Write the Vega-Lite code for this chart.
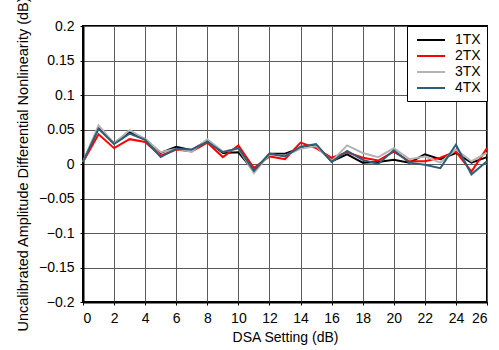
{
  "$schema": "https://vega.github.io/schema/vega-lite/v6.json",
  "width": 404,
  "height": 276,
  "autosize": "none",
  "padding": {"left": 83, "top": 26, "right": 12, "bottom": 48},
  "background": "white",
  "config": {
    "font": "Liberation Sans",
    "view": {"stroke": "black", "strokeWidth": 2}
  },
  "data": {
    "values": [
      {"x":0,"s":"1TX","y":0.003},{"x":1,"s":"1TX","y":0.052},{"x":2,"s":"1TX","y":0.030},{"x":3,"s":"1TX","y":0.046},{"x":4,"s":"1TX","y":0.036},{"x":5,"s":"1TX","y":0.016},{"x":6,"s":"1TX","y":0.025},{"x":7,"s":"1TX","y":0.020},{"x":8,"s":"1TX","y":0.034},{"x":9,"s":"1TX","y":0.016},{"x":10,"s":"1TX","y":0.017},{"x":11,"s":"1TX","y":-0.010},{"x":12,"s":"1TX","y":0.015},{"x":13,"s":"1TX","y":0.015},{"x":14,"s":"1TX","y":0.023},{"x":15,"s":"1TX","y":0.027},{"x":16,"s":"1TX","y":0.004},{"x":17,"s":"1TX","y":0.014},{"x":18,"s":"1TX","y":0.002},{"x":19,"s":"1TX","y":0.003},{"x":20,"s":"1TX","y":0.006},{"x":21,"s":"1TX","y":0.002},{"x":22,"s":"1TX","y":0.014},{"x":23,"s":"1TX","y":0.007},{"x":24,"s":"1TX","y":0.016},{"x":25,"s":"1TX","y":0.002},{"x":26,"s":"1TX","y":0.010},
      {"x":0,"s":"2TX","y":0.003},{"x":1,"s":"2TX","y":0.043},{"x":2,"s":"2TX","y":0.023},{"x":3,"s":"2TX","y":0.036},{"x":4,"s":"2TX","y":0.032},{"x":5,"s":"2TX","y":0.012},{"x":6,"s":"2TX","y":0.021},{"x":7,"s":"2TX","y":0.018},{"x":8,"s":"2TX","y":0.031},{"x":9,"s":"2TX","y":0.010},{"x":10,"s":"2TX","y":0.027},{"x":11,"s":"2TX","y":-0.006},{"x":12,"s":"2TX","y":0.011},{"x":13,"s":"2TX","y":0.007},{"x":14,"s":"2TX","y":0.031},{"x":15,"s":"2TX","y":0.023},{"x":16,"s":"2TX","y":0.009},{"x":17,"s":"2TX","y":0.017},{"x":18,"s":"2TX","y":0.009},{"x":19,"s":"2TX","y":0.005},{"x":20,"s":"2TX","y":0.018},{"x":21,"s":"2TX","y":0.004},{"x":22,"s":"2TX","y":0.004},{"x":23,"s":"2TX","y":0.009},{"x":24,"s":"2TX","y":0.018},{"x":25,"s":"2TX","y":-0.011},{"x":26,"s":"2TX","y":0.023},
      {"x":0,"s":"3TX","y":0.003},{"x":1,"s":"3TX","y":0.056},{"x":2,"s":"3TX","y":0.030},{"x":3,"s":"3TX","y":0.049},{"x":4,"s":"3TX","y":0.036},{"x":5,"s":"3TX","y":0.017},{"x":6,"s":"3TX","y":0.022},{"x":7,"s":"3TX","y":0.018},{"x":8,"s":"3TX","y":0.036},{"x":9,"s":"3TX","y":0.018},{"x":10,"s":"3TX","y":0.022},{"x":11,"s":"3TX","y":-0.013},{"x":12,"s":"3TX","y":0.014},{"x":13,"s":"3TX","y":0.012},{"x":14,"s":"3TX","y":0.022},{"x":15,"s":"3TX","y":0.026},{"x":16,"s":"3TX","y":0.004},{"x":17,"s":"3TX","y":0.027},{"x":18,"s":"3TX","y":0.016},{"x":19,"s":"3TX","y":0.010},{"x":20,"s":"3TX","y":0.023},{"x":21,"s":"3TX","y":0.007},{"x":22,"s":"3TX","y":0.011},{"x":23,"s":"3TX","y":0.002},{"x":24,"s":"3TX","y":0.021},{"x":25,"s":"3TX","y":0.004},{"x":26,"s":"3TX","y":0.016},
      {"x":0,"s":"4TX","y":0.003},{"x":1,"s":"4TX","y":0.051},{"x":2,"s":"4TX","y":0.029},{"x":3,"s":"4TX","y":0.044},{"x":4,"s":"4TX","y":0.035},{"x":5,"s":"4TX","y":0.010},{"x":6,"s":"4TX","y":0.022},{"x":7,"s":"4TX","y":0.021},{"x":8,"s":"4TX","y":0.032},{"x":9,"s":"4TX","y":0.017},{"x":10,"s":"4TX","y":0.023},{"x":11,"s":"4TX","y":-0.010},{"x":12,"s":"4TX","y":0.015},{"x":13,"s":"4TX","y":0.011},{"x":14,"s":"4TX","y":0.025},{"x":15,"s":"4TX","y":0.029},{"x":16,"s":"4TX","y":0.003},{"x":17,"s":"4TX","y":0.019},{"x":18,"s":"4TX","y":0.006},{"x":19,"s":"4TX","y":0.000},{"x":20,"s":"4TX","y":0.020},{"x":21,"s":"4TX","y":0.002},{"x":22,"s":"4TX","y":-0.001},{"x":23,"s":"4TX","y":-0.006},{"x":24,"s":"4TX","y":0.028},{"x":25,"s":"4TX","y":-0.015},{"x":26,"s":"4TX","y":0.004}
    ]
  },
  "mark": {"type": "line", "strokeWidth": 2},
  "encoding": {
    "x": {
      "field": "x", "type": "quantitative",
      "scale": {"domain": [0, 26], "nice": false},
      "axis": {
        "title": "DSA Setting (dB)", "values": [0,2,4,6,8,10,12,14,16,18,20,22,24,26],
        "titleFont": "Liberation Sans", "titleFontSize": 14, "titleFontWeight": "normal", "titleColor": "black", "titlePadding": 5,
        "labelFont": "Liberation Sans", "labelFontSize": 14, "labelColor": "black", "labelPadding": 6,
        "domainColor": "black", "domainWidth": 2,
        "tickColor": "black", "tickSize": 3,
        "gridColor": "#5a5a5a", "gridWidth": 1, "gridOpacity": 1
      }
    },
    "y": {
      "field": "y", "type": "quantitative",
      "scale": {"domain": [-0.2, 0.2], "nice": false},
      "axis": {
        "title": "Uncalibrated Amplitude Differential Nonlinearity (dB)",
        "values": [-0.2,-0.15,-0.1,-0.05,0,0.05,0.1,0.15,0.2],
        "format": ".2~f",
        "titleFont": "Liberation Sans", "titleFontSize": 14.5, "titleFontWeight": "normal", "titleColor": "black", "titlePadding": 8,
        "labelFont": "Liberation Sans", "labelFontSize": 14, "labelColor": "black", "labelPadding": 6,
        "domainColor": "black", "domainWidth": 2,
        "tickColor": "black", "tickSize": 3,
        "gridColor": "#5a5a5a", "gridWidth": 1, "gridOpacity": 1
      }
    },
    "color": {
      "field": "s", "type": "nominal",
      "scale": {"domain": ["1TX","2TX","3TX","4TX"], "range": ["#000000","#ff0000","#b4b4b4","#2c5f78"]},
      "legend": {
        "title": null, "orient": "top-right", "offset": 0,
        "fillColor": "white", "strokeColor": "black",
        "padding": 6, "symbolType": "M-2,0H2", "symbolSize": 196, "symbolStrokeWidth": 2,
        "symbolOffset": 10, "labelOffset": 16,
        "labelFont": "Liberation Sans", "labelFontSize": 14, "labelColor": "black", "rowPadding": 1
      }
    }
  }
}
